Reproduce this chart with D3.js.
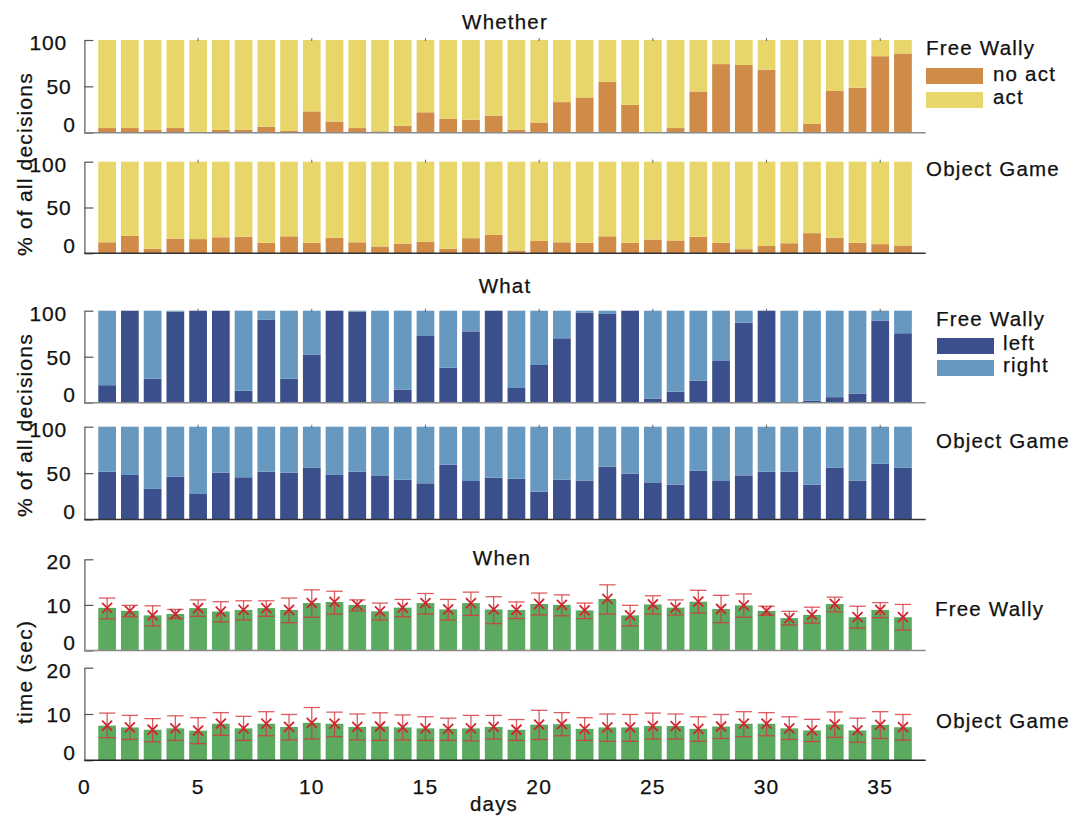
<!DOCTYPE html>
<html>
<head>
<meta charset="utf-8">
<script src="https://cdn.jsdelivr.net/npm/d3@7"></script>
<style>
  body { margin: 0; background: #fff; }
  text { font-family: "Liberation Sans", Arial, Helvetica, sans-serif; fill: #111; stroke: #111; stroke-width: 0.25px; }
</style>
</head>
<body>
<svg id="fig" width="1075" height="816"></svg>
<script>
// ---- data -------------------------------------------------------------
const days = d3.range(1, 37);
const dayTicks = [0, 5, 10, 15, 20, 25, 30, 35];
const percentTicks = [0, 50, 100];
const timeTicks = [0, 10, 20];

// "Whether": share of decisions with no action (%), rest is "act"
const whetherFreeWallyNoAct = [5, 5, 3, 5, 0.5, 3, 3, 6.5, 2, 23, 12, 5, 1.5, 7.5, 22, 15, 14, 18.5,
  3, 11, 33, 38, 55, 30, 0, 5, 44.5, 74, 73, 68, 0, 9.5, 45, 48.5, 82.5, 85.5];
const whetherObjectGameNoAct = [12, 19, 5, 16, 15.5, 17.5, 18, 11.5, 18.5, 11.5, 17, 12, 7.5, 10.5, 12.5, 5, 16.5, 20,
  3, 13.5, 12, 11.5, 18.5, 11.5, 15, 14, 18, 11.5, 4.5, 8, 11, 22, 17, 11.5, 10, 8.5];

// "What": share of decisions going left (%), rest is "right"
const whatFreeWallyLeft = [19, 100, 26, 99, 100, 100, 13, 90, 26, 52, 100, 99, 1.5, 14, 72.5, 38, 77.5, 100,
  16, 41, 70, 98, 96.5, 100, 4.5, 12, 24, 46, 87, 100, 0, 2, 6, 10, 89, 75.5];
const whatObjectGameLeft = [51.5, 48, 33, 46, 27.5, 50.5, 45.5, 51.5, 50.5, 56, 48, 51.5, 47.5, 43, 39, 59, 41.5, 45,
  44, 30, 43, 42, 57, 49.5, 40, 37.5, 52.5, 41.5, 47.5, 51.5, 51.5, 37.5, 56, 42, 60, 56];

// "When": decision time (sec) with error-bar bounds
const whenFreeWallyTime = [9.35, 8.7, 7.7, 8.0, 9.3, 8.55, 8.9, 9.3, 8.9, 10.4, 10.65, 10.0, 8.6, 9.4, 10.4, 9.0, 10.4, 9.0,
  8.9, 10.2, 10.0, 8.8, 11.3, 7.7, 10.1, 9.4, 10.7, 9.1, 9.9, 8.7, 7.1, 7.8, 10.2, 7.3, 8.9, 7.3];
const whenFreeWallyLow = [6.95, 7.4, 5.4, 7.0, 7.5, 6.3, 6.7, 7.5, 6.1, 7.3, 8.0, 8.7, 6.7, 7.4, 8.0, 6.7, 7.7, 5.9,
  7.0, 7.8, 7.6, 7.0, 8.0, 5.4, 8.0, 7.8, 8.2, 6.1, 7.3, 7.75, 5.6, 6.0, 8.5, 4.9, 7.2, 4.5];
const whenFreeWallyHigh = [11.5, 9.9, 9.8, 9.0, 11.1, 10.7, 10.9, 10.9, 11.5, 13.3, 13.0, 11.1, 10.4, 11.2, 12.5, 11.2, 12.8, 11.8,
  10.65, 12.6, 12.2, 10.4, 14.4, 9.9, 12.0, 11.1, 13.2, 12.1, 12.4, 9.7, 8.6, 9.5, 11.7, 9.7, 10.5, 10.1];

const whenObjectGameTime = [7.5, 7.1, 6.6, 6.9, 6.4, 7.9, 6.9, 7.9, 7.2, 8.1, 7.9, 7.2, 7.3, 7.1, 6.9, 6.8, 6.9, 7.2,
  6.6, 7.7, 7.8, 6.8, 7.1, 7.1, 7.4, 7.4, 6.8, 7.3, 7.9, 7.9, 6.9, 6.45, 7.75, 6.45, 7.65, 7.15];
const whenObjectGameLow = [4.9, 4.5, 4.0, 4.3, 3.6, 5.4, 4.3, 5.3, 4.4, 4.6, 5.1, 4.4, 4.3, 4.4, 4.3, 4.3, 4.2, 4.6,
  4.3, 4.5, 5.3, 4.3, 4.1, 4.1, 4.6, 4.6, 4.1, 4.7, 5.1, 5.3, 4.5, 4.05, 4.95, 3.9, 4.7, 4.35];
const whenObjectGameHigh = [10.2, 9.7, 9.0, 9.6, 9.2, 10.3, 9.5, 10.5, 9.9, 11.4, 10.4, 10.0, 10.25, 9.8, 9.4, 9.1, 9.7, 9.7,
  8.8, 10.8, 10.3, 9.2, 10.0, 9.9, 10.2, 10.0, 9.4, 9.9, 10.5, 10.3, 9.4, 8.85, 10.45, 9.1, 10.5, 9.9];

// ---- styling ----------------------------------------------------------
const FONT = 20;
const colors = {
  noAct: "#cf8b47", act: "#e9d66b",
  left: "#3a4f8b", right: "#6698c0",
  time: "#5caa5f", err: "#d6343a", mark: "#cf2530"
};

const svg = d3.select("#fig");
const x = d3.scaleLinear().domain([0, 37]).range([84.4, 925.7]);
const dayW = x(1) - x(0);
const barW = dayW * 0.78;

function txt(sel, size = FONT) {
  return sel.style("font-size", size + "px").style("letter-spacing", "1.2px");
}

// axes frame for one panel
function frame(top, bottom, domain, baseColor, topMarks) {
  const y = d3.scaleLinear().domain(domain).range([bottom, top]);
  const g = svg.append("g");
  if (topMarks) {
    g.selectAll("line.tm").data(dayTicks.slice(1)).join("line")
      .attr("x1", d => x(d)).attr("x2", d => x(d))
      .attr("y1", top - 2).attr("y2", top + 1)
      .attr("stroke", "#666").attr("stroke-width", 1);
  }
  return { y, g, baseColor };
}

// left spine with inward ticks, tick labels kept inside the panel's height, baseline
function finishAxes(p, ticks) {
  const [lo, hi] = p.y.domain();
  const ax = p.g.append("g")
    .attr("transform", `translate(${x(0)},0)`)
    .call(d3.axisLeft(p.y).tickValues(ticks).tickSizeInner(-9).tickSizeOuter(0).tickPadding(15));
  ax.select(".domain").attr("stroke", "#555").attr("stroke-width", 1.2);
  ax.selectAll(".tick line").attr("stroke", "#555").attr("stroke-width", 1.2);
  ax.selectAll(".tick text").attr("fill", "#111")
    .attr("text-anchor", "start")
    .attr("x", d => 80 - 16.8 * String(d).length - x(0))
    .attr("dy", d => d === lo ? "-0.05em" : d === hi ? "0.45em" : "0.35em")
    .call(txt, 21)
    .style("letter-spacing", "0.8px");
  p.g.append("line")
    .attr("x1", x(0)).attr("x2", x(37))
    .attr("y1", p.y(0)).attr("y2", p.y(0))
    .attr("stroke", p.baseColor).attr("stroke-width", 1.4);
}

// stacked percentage panel
function stackPanel(top, bottom, values, lowKey, highKey, lowColor, highColor, baseColor) {
  const rows = days.map((d, i) => ({ day: d, [lowKey]: values[i], [highKey]: 100 - values[i] }));
  const series = d3.stack().keys([lowKey, highKey])(rows);
  const p = frame(top, bottom, [0, 100], baseColor, true);
  const fill = { [lowKey]: lowColor, [highKey]: highColor };
  p.g.insert("g", ":first-child").selectAll("g").data(series).join("g")
    .attr("fill", s => fill[s.key])
    .selectAll("rect").data(s => s).join("rect")
    .attr("x", d => x(d.data.day) - barW / 2)
    .attr("width", barW)
    .attr("y", d => p.y(d[1]))
    .attr("height", d => p.y(d[0]) - p.y(d[1]));
  finishAxes(p, percentTicks);
  return p;
}

// timing panel with error bars and markers
function timePanel(top, bottom, mean, lo, hi, baseColor) {
  const p = frame(top, bottom, [0, 20], baseColor, false);
  const rows = days.map((d, i) => ({ day: d, m: mean[i], lo: lo[i], hi: hi[i] }));
  p.g.selectAll("rect").data(rows).join("rect")
    .attr("x", d => x(d.day) - barW / 2).attr("width", barW)
    .attr("y", d => p.y(d.m)).attr("height", d => p.y(0) - p.y(d.m))
    .attr("fill", colors.time);
  finishAxes(p, timeTicks);
  const cap = dayW * 0.36;
  const eb = p.g.append("g").attr("stroke", colors.err).attr("stroke-width", 1.3).attr("stroke-opacity", 0.8);
  const err = eb.selectAll("g").data(rows).join("g");
  err.append("line").attr("x1", d => x(d.day)).attr("x2", d => x(d.day))
    .attr("y1", d => p.y(d.lo)).attr("y2", d => p.y(d.hi));
  err.append("line").attr("x1", d => x(d.day) - cap).attr("x2", d => x(d.day) + cap)
    .attr("y1", d => p.y(d.hi)).attr("y2", d => p.y(d.hi));
  err.append("line").attr("x1", d => x(d.day) - cap).attr("x2", d => x(d.day) + cap)
    .attr("y1", d => p.y(d.lo)).attr("y2", d => p.y(d.lo));
  const s = 5;
  const mk = p.g.append("g").attr("stroke", colors.mark).attr("stroke-width", 1.8);
  const m = mk.selectAll("g").data(rows).join("g");
  m.append("line").attr("x1", d => x(d.day) - s).attr("x2", d => x(d.day) + s)
    .attr("y1", d => p.y(d.m) - s).attr("y2", d => p.y(d.m) + s);
  m.append("line").attr("x1", d => x(d.day) - s).attr("x2", d => x(d.day) + s)
    .attr("y1", d => p.y(d.m) + s).attr("y2", d => p.y(d.m) - s);
  return p;
}

// ---- panels -----------------------------------------------------------
stackPanel(40, 132.7, whetherFreeWallyNoAct, "noAct", "act", colors.noAct, colors.act, "#8a8a8a");
stackPanel(161.7, 253.3, whetherObjectGameNoAct, "noAct", "act", colors.noAct, colors.act, "#333");
stackPanel(310.7, 402.7, whatFreeWallyLeft, "left", "right", colors.left, colors.right, "#8a8a8a");
stackPanel(426.7, 519.5, whatObjectGameLeft, "left", "right", colors.left, colors.right, "#333");
timePanel(559.3, 650.5, whenFreeWallyTime, whenFreeWallyLow, whenFreeWallyHigh, "#8a8a8a");
timePanel(667.7, 760.3, whenObjectGameTime, whenObjectGameLow, whenObjectGameHigh, "#222");

// x tick labels on the bottom panel
svg.append("g").selectAll("text").data(dayTicks).join("text")
  .attr("x", d => x(d)).attr("y", 794)
  .attr("text-anchor", "middle").text(d => d).call(txt, 21);

// ---- titles, labels, legends -----------------------------------------
const mid = (x(0) + x(37)) / 2;
const labels = [
  { t: "Whether", x: mid, y: 29, a: "middle" },
  { t: "What", x: mid, y: 293, a: "middle" },
  { t: "When", x: mid - 3, y: 565, a: "middle" },
  { t: "days", x: 494, y: 811, a: "middle" },
  { t: "Free Wally", x: 926, y: 55, a: "start" },
  { t: "Object Game", x: 926, y: 176, a: "start" },
  { t: "Free Wally", x: 936, y: 326, a: "start" },
  { t: "Object Game", x: 936, y: 448, a: "start" },
  { t: "Free Wally", x: 935, y: 616, a: "start" },
  { t: "Object Game", x: 936, y: 728, a: "start" },
  { t: "no act", x: 993, y: 81, a: "start" },
  { t: "act", x: 993, y: 104, a: "start" },
  { t: "left", x: 1003, y: 350, a: "start" },
  { t: "right", x: 1003, y: 372, a: "start" }
];
svg.append("g").selectAll("text").data(labels).join("text")
  .attr("x", d => d.x).attr("y", d => d.y).attr("text-anchor", d => d.a)
  .text(d => d.t).call(txt, 20.5);

const yLabels = [
  { t: "% of all decisions", cy: 164 },
  { t: "% of all decisions", cy: 425 },
  { t: "time (sec)", cy: 672 }
];
svg.append("g").selectAll("text").data(yLabels).join("text")
  .attr("transform", d => `translate(32,${d.cy}) rotate(-90)`)
  .attr("text-anchor", "middle").text(d => d.t).call(txt, 21);

// legend swatches
const swatches = [
  { c: colors.noAct, x: 926, y: 68 },
  { c: colors.act, x: 926, y: 92 },
  { c: colors.left, x: 937, y: 338 },
  { c: colors.right, x: 937, y: 360 }
];
svg.append("g").selectAll("rect").data(swatches).join("rect")
  .attr("x", d => d.x).attr("y", d => d.y).attr("width", 57).attr("height", 16)
  .attr("fill", d => d.c);
</script>
</body>
</html>
